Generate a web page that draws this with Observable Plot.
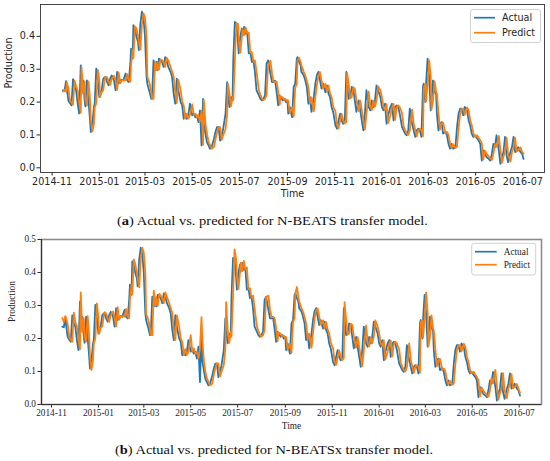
<!DOCTYPE html>
<html>
<head>
<meta charset="utf-8">
<script src="https://cdn.jsdelivr.net/npm/d3@7"></script>
<script src="https://cdn.jsdelivr.net/npm/@observablehq/plot@0.6"></script>
<style>
  html, body { margin: 0; padding: 0; background: #fff; }
  #wrap { position: relative; width: 550px; height: 461px; overflow: hidden; background: #fff; }
  #wrap > svg { position: absolute; left: 0; }
</style>
</head>
<body>
<div id="wrap"></div>
<script>
// ---- data: day offsets from 2014-11-01 ----
const baseDate = "2014-11-01";
const days = [
  14,16,18,19,21,23,25,27,29,31, 33,35,37,38,40,42,43,45,47,49,
  50,52,54,55,57,59,61,62,64,66, 68,69,71,73,75,77,80,82,84,86,
  88,90,92,95,97,99,101,102,104,105, 107,109,111,112,114,116,118,120,122,123,
  126,128,129,131,133,135,136,138,140,142, 144,146,148,150,153,155,157,159,161,163,
  166,168,170,172,174,176,178,181,183,185, 187,189,191,193,195,196,198,200,202,204,
  206,209,211,213,215,217,219,221,224,226, 227,229,231,233,234,236,238,240,241,243,
  245,246,248,250,252,254,256,258,260,262, 264,267,269,271,273,275,277,279,282,284,
  286,
  288,290,292,294,295,298,300,302,304,305, 307,310,312,314,316,317,319,321,322,325,
  327,329,331,333,335,338,340,342,344,346, 348,350,353,355,357,359,361,363,366,368,
  370,372,374,376,378,380,381,383,385,387, 389,391,393,396,398,400,402,404,406,409,
  411,413,415,417,419,421,424,426,428,430, 432,434,437,439,441,443,445,447,449,452,
  454,456,458,460,462,465,467,469,471,473, 475,477,479,480,482,483,485,487,489,490,
  492,494,496,497,499,501,503,505,508,510, 512,514,516,518,521,523,525,527,529,531,
  533,536,538,540,542,544,546,549,551,553, 555,557,559,561,564,566,568,570,572,574,
  577,579,581,583,585,587,589,592,594,596, 598,600,602,605,607,609
];
const actual = [
  .236,.234,.264,.24,.205,.197,.19,.27,.246,.236, .195,.165,.312,.226,.266,.205,.187,.266,.205,.144,
  .109,.134,.185,.195,.302,.266,.215,.23,.236,.271, .276,.276,.261,.251,.271,.281,.266,.236,.292,.256,
  .266,.268,.266,.287,.266,.261,.317,.363,.332,.434, .424,.398,.383,.358,.439,.475,.459,.398,.276,.256,
  .23,.21,.21,.327,.297,.322,.297,.332,.327,.322, .307,.337,.327,.307,.292,.276,.226,.195,.271,.236,
  .2,.19,.149,.165,.149,.16,.195,.16,.165,.154, .16,.139,.175,.068,.21,.134,.104,.078,.068,.058,
  .063,.088,.109,.124,.124,.083,.099,.119,.165,.261, .226,.185,.215,.205,.327,.444,.439,.388,.348,.398,
  .424,.403,.429,.408,.413,.348,.353,.322,.327,.292, .236,.221,.21,.205,.21,.221,.317,.327,.287,.261,
  .261,
  .265,.23,.19,.22,.215,.205,.21,.2,.205,.165, .185,.154,.246,.256,.332,.337,.322,.312,.292,.282,
  .266,.246,.195,.215,.17,.215,.256,.282,.292,.266, .241,.256,.23,.251,.226,.215,.185,.17,.129,.119,
  .144,.165,.144,.134,.139,.292,.256,.21,.215,.246, .241,.205,.17,.205,.175,.144,.114,.165,.236,.185,
  .175,.205,.185,.205,.251,.236,.215,.185,.175,.195, .134,.16,.185,.195,.144,.185,.19,.185,.165,.124,
  .114,.104,.099,.114,.18,.134,.114,.094,.114,.119, .114,.094,.246,.256,.2,.256,.332,.276,.175,.205,
  .266,.23,.226,.165,.114,.134,.139,.104,.109,.099, .073,.058,.073,.058,.063,.124,.165,.18,.18,.16,
  .185,.175,.144,.129,.104,.094,.099,.089,.083,.073, .022,.053,.043,.033,.027,.022,.043,.073,.063,.099,
  .053,.012,.033,.048,.094,.038,.017,.048,.063,.094, .048,.053,.063,.048,.043,.027
];
// N-BEATS transfer model predictions (panel a)
const predictA = [
  .232,.238,.232,.26,.242,.206,.198,.192,.266,.247, .236,.197,.167,.306,.228,.263,.206,.189,.263,.206,
  .146,.111,.134,.184,.196,.298,.266,.216,.23,.236, .27,.276,.276,.262,.252,.27,.28,.265,.237,.29,
  .257,.266,.267,.266,.285,.267,.262,.314,.36,.334, .43,.425,.399,.384,.36,.436,.47,.458,.4,.278,
  .256,.231,.211,.21,.323,.298,.321,.298,.33,.327, .322,.307,.335,.327,.307,.292,.277,.227,.197,.268,
  .236,.201,.19,.15,.165,.15,.16,.193,.161,.165, .154,.16,.14,.173,.07,.207,.135,.105,.079,.069,
  .058,.063,.087,.108,.123,.124,.085,.099,.118,.163, .257,.227,.187,.214,.206,.322,.44,.438,.39,.35,
  .397,.422,.404,.427,.409,.412,.35,.352,.323,.327, .293,.237,.222,.211,.206,.21,.221,.313,.326,.288,
  .261,
  .261,.262,.232,.192,.218,.214,.206,.209,.201,.204, .166,.184,.156,.243,.255,.328,.335,.322,.312,.292,
  .281,.265,.246,.197,.214,.172,.214,.254,.28,.291, .266,.242,.255,.231,.25,.227,.215,.187,.171,.131,
  .12,.143,.164,.145,.135,.14,.288,.256,.212,.215, .245,.241,.206,.172,.204,.176,.145,.116,.164,.232,
  .186,.176,.204,.186,.205,.248,.236,.215,.186,.176, .194,.136,.16,.184,.194,.146,.184,.19,.185,.166,
  .126,.115,.105,.1,.114,.177,.135,.115,.096,.114, .119,.114,.096,.242,.255,.202,.254,.328,.277,.177,
  .205,.263,.231,.225,.167,.116,.134,.138,.106,.109, .1,.075,.06,.072,.06,.064,.122,.164,.179,.18,
  .161,.184,.175,.145,.13,.106,.095,.099,.09,.084, .074,.025,.052,.043,.034,.028,.024,.043,.072,.064,
  .097,.055,.015,.034,.048,.092,.04,.019,.048,.063, .092,.049,.053,.062,.049,.043
];
// N-BEATSx transfer model predictions (panel b)
const predictB = [
  .262,.25,.268,.262,.244,.206,.196,.19,.278,.25, .236,.197,.167,.34,.22,.262,.204,.19,.268,.206,
  .146,.104,.136,.184,.2,.306,.262,.214,.232,.236, .27,.28,.276,.262,.25,.272,.282,.265,.236,.295,
  .257,.268,.267,.266,.29,.267,.262,.32,.362,.334, .44,.425,.399,.384,.355,.44,.475,.46,.4,.275,
  .256,.228,.21,.21,.345,.3,.325,.298,.335,.33, .322,.307,.34,.327,.307,.292,.277,.225,.195,.27,
  .236,.2,.19,.15,.168,.15,.16,.21,.161,.17, .154,.16,.14,.17,.265,.2,.135,.1,.079,.069,
  .058,.063,.09,.11,.125,.124,.085,.1,.12,.168, .31,.227,.187,.22,.206,.33,.47,.44,.39,.35,
  .4,.43,.404,.435,.409,.415,.35,.352,.323,.33, .293,.237,.222,.211,.206,.21,.225,.325,.33,.288,
  .265,
  .265,.262,.232,.192,.218,.214,.206,.209,.201,.204, .166,.184,.156,.25,.26,.335,.356,.325,.312,.292,
  .281,.265,.246,.197,.214,.172,.218,.26,.285,.291, .266,.242,.255,.231,.25,.227,.215,.187,.171,.131,
  .12,.143,.164,.145,.135,.14,.31,.256,.212,.215, .245,.241,.206,.172,.204,.176,.145,.116,.164,.24,
  .186,.176,.204,.186,.205,.255,.236,.215,.186,.176, .194,.136,.16,.184,.194,.146,.184,.19,.185,.166,
  .126,.115,.105,.1,.114,.185,.135,.115,.096,.114, .119,.114,.096,.25,.255,.202,.26,.34,.277,.177,
  .205,.27,.231,.225,.167,.116,.134,.138,.106,.109, .1,.075,.06,.072,.06,.064,.122,.164,.179,.18,
  .161,.184,.175,.145,.13,.106,.095,.099,.09,.084, .074,.025,.052,.043,.034,.028,.024,.043,.08,.064,
  .105,.055,.015,.034,.048,.095,.04,.019,.048,.065, .092,.049,.053,.062,.049,.036
];
const xTickLabels = ["2014-11","2015-01","2015-03","2015-05","2015-07","2015-09","2015-11","2016-01","2016-03","2016-05","2016-07"];
const yTicksA = [0, 0.1, 0.2, 0.3, 0.4];
const yTicksB = [0, 0.1, 0.2, 0.3, 0.4, 0.5];
const xDomainA = ["2014-10-17", "2016-07-29"];
const xDomainB = ["2014-10-19", "2016-07-30"];
const yDomainA = [-0.0143, 0.497];
const yDomainB = [0, 0.5];
const seriesNames = ["Actual", "Predict"];
const seriesColors = ["#1f77b4", "#ff7f0e"];
const captionA = ["(", "a", ") Actual vs. predicted for N-BEATS transfer model."];
const captionB = ["(", "b", ") Actual vs. predicted for N-BEATSx transfer model."];

// ---- build table ----
const parseDay = d3.utcParse("%Y-%m-%d");
const parseMonth = d3.utcParse("%Y-%m");
const base = parseDay(baseDate);
const n = Math.min(days.length, actual.length, predictA.length, predictB.length);
const data = d3.range(n).map(i => ({
  date: d3.utcDay.offset(base, days[i]),
  actual: actual[i], predA: predictA[i], predB: predictB[i]
}));
const tickDates = xTickLabels.map(parseMonth);
const fmtMonth = d3.utcFormat("%Y-%m");

const wrap = d3.select("#wrap");

function addLegend(svg, o) {
  const g = d3.select(svg).append("g");
  g.append("rect").attr("x", o.x).attr("y", o.y).attr("width", o.w).attr("height", o.h)
    .attr("rx", 2.5).attr("fill", "white").attr("fill-opacity", 0.85)
    .attr("stroke", "#cccccc").attr("stroke-width", 0.9);
  seriesNames.forEach((name, i) => {
    const yy = o.ly[i];
    g.append("line").attr("x1", o.lx0).attr("x2", o.lx1).attr("y1", yy).attr("y2", yy)
      .attr("stroke", seriesColors[i]).attr("stroke-width", 1.7);
    g.append("text").attr("x", o.tx).attr("y", yy).attr("dy", "0.35em")
      .attr("text-anchor", "start").attr("fill", "#262626")
      .attr("font-family", o.font).attr("font-size", o.size).text(name);
  });
}

// ---- panel (a) ----
const svgA = Plot.plot({
  width: 550, height: 205,
  marginTop: 4, marginRight: 6, marginBottom: 33, marginLeft: 40,
  style: { fontFamily: "'DejaVu Sans', sans-serif", fontSize: "9.6px", color: "#262626", background: "white", overflow: "visible" },
  x: { type: "utc", domain: xDomainA.map(parseDay) },
  y: { domain: yDomainA },
  marks: [
    Plot.axisX({ ticks: tickDates, tickFormat: fmtMonth, tickSize: 3.5, tickPadding: 2, label: null, stroke: "#262626" }),
    Plot.axisY({ ticks: yTicksA, tickFormat: d3.format(".1f"), tickSize: 3.5, tickPadding: 2, label: null, stroke: "#262626" }),
    Plot.lineY(data, { x: "date", y: "actual", stroke: seriesColors[0], strokeWidth: 1.8 }),
    Plot.lineY(data, { x: "date", y: "predA", stroke: seriesColors[1], strokeWidth: 1.8 }),
    Plot.frame({ stroke: "#333", strokeWidth: 0.9 }),
    Plot.text(["Time"], { text: d => d, frameAnchor: "bottom", dy: 24, fill: "#262626" }),
    Plot.text(["Production"], { text: d => d, frameAnchor: "left", rotate: -90, dx: -32, fill: "#262626" })
  ]
});
svgA.style.top = "0px";
addLegend(svgA, { x: 470.5, y: 9.5, w: 70, h: 33, lx0: 474, lx1: 495, ly: [17.7, 32.7], tx: 502,
  font: "'DejaVu Sans', sans-serif", size: "9.6px" });
wrap.node().appendChild(svgA);

// ---- captions ----
function addCaption(parts, top, x, len) {
  const s = wrap.append("svg").attr("width", 550).attr("height", 24).style("top", top + "px");
  const t = s.append("text").attr("x", x).attr("y", 16)
    .attr("font-family", "'Liberation Serif', serif").attr("font-size", "13px")
    .attr("fill", "#111").attr("textLength", len).attr("lengthAdjust", "spacingAndGlyphs");
  t.append("tspan").text(parts[0]);
  t.append("tspan").attr("font-weight", "bold").text(parts[1]);
  t.append("tspan").text(parts[2]);
}
addCaption(captionA, 209, 117, 311);

// ---- panel (b) ----
const svgB = Plot.plot({
  width: 550, height: 205,
  marginTop: 7, marginRight: 9, marginBottom: 33, marginLeft: 41,
  style: { fontFamily: "'Liberation Serif', serif", fontSize: "9.3px", color: "#262626", background: "white", overflow: "visible" },
  x: { type: "utc", domain: xDomainB.map(parseDay) },
  y: { domain: yDomainB },
  marks: [
    Plot.axisX({ ticks: tickDates, tickFormat: fmtMonth, tickSize: 3.5, tickPadding: 1.5, label: null, stroke: "#262626" }),
    Plot.axisY({ ticks: yTicksB, tickFormat: d3.format(".1f"), tickSize: 3.5, tickPadding: 2, label: null, stroke: "#262626" }),
    Plot.lineY(data, { x: "date", y: "actual", stroke: seriesColors[0], strokeWidth: 1.8 }),
    Plot.lineY(data, { x: "date", y: "predB", stroke: seriesColors[1], strokeWidth: 1.8 }),
    Plot.frame({ stroke: "#8c8c8c", strokeWidth: 1.6 }),
    Plot.ruleY([yDomainB[0]], { stroke: "#333", strokeWidth: 1.1 }),
    Plot.ruleX([parseDay(xDomainB[0])], { stroke: "#333", strokeWidth: 1.1 }),
    Plot.text(["Time"], { text: d => d, frameAnchor: "bottom", dy: 24, fill: "#262626" }),
    Plot.text(["Production"], { text: d => d, frameAnchor: "left", rotate: -90, dx: -29, fill: "#262626" })
  ]
});
svgB.style.top = "232px";
addLegend(svgB, { x: 471.7, y: 11.3, w: 64, h: 31.7, lx0: 475, lx1: 496.7, ly: [19.7, 32.7], tx: 503.7,
  font: "'Liberation Serif', serif", size: "9.3px" });
wrap.node().appendChild(svgB);

addCaption(captionB, 438, 115, 318);
</script>
</body>
</html>
